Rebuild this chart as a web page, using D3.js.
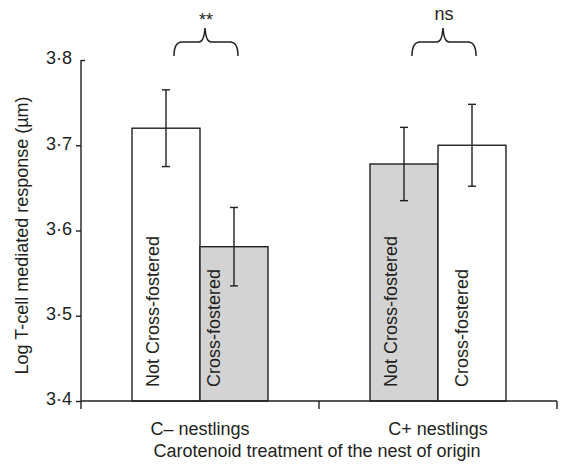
<!DOCTYPE html>
<html>
<head>
<meta charset="utf-8">
<script src="https://cdn.jsdelivr.net/npm/d3@7"></script>
<style>
  html, body { margin: 0; padding: 0; background: #fff; }
  svg { display: block; }
  text { font-family: "Liberation Sans", Arial, Helvetica, sans-serif; fill: #231f20; }
</style>
</head>
<body>
<svg id="chart" width="563" height="464"></svg>
<script>
// ---- data ----
const groups = ["C– nestlings", "C+ nestlings"];
const series = ["Not Cross-fostered", "Cross-fostered"];
const meansCminus = [3.720, 3.581];
const meansCplus = [3.678, 3.700];
const seCminus = [0.045, 0.046];
const seCplus = [0.043, 0.048];
const significance = ["**", "ns"];
const yTicks = [3.4, 3.5, 3.6, 3.7, 3.8];

// ---- styles / layout ----
const ink = "#231f20";
const grey = "#d3d3d4";
const fillCminus = ["#ffffff", grey];
const fillCplus = [grey, "#ffffff"];
const labelDx = [[27, 20], [27, 30]];

const svg = d3.select("#chart");
const margin = { left: 81, right: 6, top: 60, bottom: 63 };
const W = 563, H = 464;
const x0 = margin.left, x1 = W - margin.right;
const yTop = margin.top, yBot = H - margin.bottom;

const y = d3.scaleLinear().domain([3.4, 3.8]).range([yBot, yTop]);
const xg = d3.scaleBand().domain(groups).range([x0, x1]).paddingInner(0).paddingOuter(0);
const xs = d3.scaleBand().domain(series).range([0, xg.bandwidth()]).paddingInner(0).paddingOuter(0.75);

const means = [meansCminus, meansCplus];
const ses = [seCminus, seCplus];
const fills = [fillCminus, fillCplus];

const bars = [];
groups.forEach((g, gi) => series.forEach((s, si) => {
  bars.push({ g, s, gi, si, v: means[gi][si], e: ses[gi][si], fill: fills[gi][si] });
}));

// bars
const bg = svg.append("g");
bg.selectAll("rect").data(bars).join("rect")
  .attr("x", d => xg(d.g) + xs(d.s))
  .attr("y", d => y(d.v))
  .attr("width", xs.bandwidth())
  .attr("height", d => y(3.4) - y(d.v))
  .attr("fill", d => d.fill)
  .attr("stroke", ink)
  .attr("stroke-width", 1.4);

// bar labels
bg.selectAll("text.bl").data(bars).join("text")
  .attr("class", "bl")
  .attr("transform", d => `translate(${xg(d.g) + xs(d.s) + labelDx[d.gi][d.si]},${yBot - 14}) rotate(-90)`)
  .attr("font-size", 18)
  .attr("text-anchor", "start")
  .text(d => d.s);

// error bars
const eg = svg.append("g").attr("stroke", ink).attr("stroke-width", 1.4);
bars.forEach(d => {
  const cx = xg(d.g) + xs(d.s) + xs.bandwidth() / 2;
  const yh = y(d.v + d.e), yl = y(d.v - d.e);
  eg.append("line").attr("x1", cx).attr("x2", cx).attr("y1", yh).attr("y2", yl);
  eg.append("line").attr("x1", cx - 4).attr("x2", cx + 4).attr("y1", yh).attr("y2", yh);
  eg.append("line").attr("x1", cx - 4).attr("x2", cx + 4).attr("y1", yl).attr("y2", yl);
});

// y axis
const yAxis = d3.axisLeft(y).tickValues(yTicks).tickSize(5).tickPadding(4)
  .tickFormat(d => d.toFixed(1).replace(".", "·"));
const ya = svg.append("g").attr("transform", `translate(${x0},0)`).call(yAxis);
ya.select(".domain").remove();
ya.selectAll("line").attr("stroke", ink).attr("stroke-width", 1.4);
ya.selectAll("text").attr("font-size", 18).attr("dy", "0.22em").style("fill", ink);
// top tick points inward
ya.selectAll(".tick").filter(d => d === 3.8).select("line").attr("x2", 4);
svg.append("line").attr("x1", x0).attr("x2", x0).attr("y1", yTop).attr("y2", yBot)
  .attr("stroke", ink).attr("stroke-width", 1.4);

// x axis
svg.append("line").attr("x1", x0).attr("x2", x1).attr("y1", yBot).attr("y2", yBot)
  .attr("stroke", ink).attr("stroke-width", 1.4);
const boundaries = [x0, ...groups.slice(1).map(g => xg(g)), x1];
svg.selectAll("line.xt").data(boundaries).join("line").attr("class", "xt")
  .attr("x1", d => d).attr("x2", d => d).attr("y1", yBot).attr("y2", yBot + 8)
  .attr("stroke", ink).attr("stroke-width", 1.4);
svg.selectAll("text.xl").data(groups).join("text").attr("class", "xl")
  .attr("x", g => xg(g) + xg.bandwidth() / 2)
  .attr("y", yBot + 34)
  .attr("text-anchor", "middle")
  .attr("font-size", 18)
  .text(g => g);

// axis titles
svg.append("text")
  .attr("x", (x0 + x1) / 2 - 2)
  .attr("y", yBot + 56)
  .attr("text-anchor", "middle")
  .attr("font-size", 18)
  .text("Carotenoid treatment of the nest of origin");
svg.append("text")
  .attr("transform", `translate(28,${(yTop + yBot) / 2 + 5}) rotate(-90)`)
  .attr("text-anchor", "middle")
  .attr("font-size", 18)
  .text("Log T-cell mediated response (µm)");

// significance braces
groups.forEach((g, gi) => {
  const c = xg(g) + xg.bandwidth() / 2;
  const L = c - 26, R = c + 38, C = c + 5;
  const yh = 42, ye = 56, yp = 28;
  const p = `M${L},${ye} Q${L},${yh} ${L + 8},${yh} H${C - 6} Q${C - 1},${yh} ${C},${yp} Q${C + 1},${yh} ${C + 6},${yh} H${R - 8} Q${R},${yh} ${R},${ye}`;
  svg.append("path").attr("d", p).attr("fill", "none").attr("stroke", ink).attr("stroke-width", 1.5);
  svg.append("text")
    .attr("x", C + 1)
    .attr("y", significance[gi] === "**" ? 26 : 20)
    .attr("text-anchor", "middle")
    .attr("font-size", 18)
    .text(significance[gi]);
});
</script>
</body>
</html>
